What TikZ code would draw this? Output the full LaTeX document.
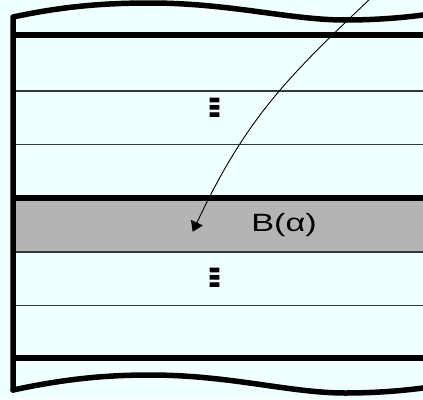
\documentclass[tikz,border=0pt]{standalone}
\usepackage{fontspec}
\setmainfont{Liberation Sans}
\newfontfamily\dejavu{DejaVu Sans}
\usetikzlibrary{arrows.meta}
\definecolor{bgcol}{RGB}{240,255,255}
\definecolor{bandcol}{RGB}{180,180,180}
\definecolor{thincol}{RGB}{50,55,55}
\tikzset{
  thickline/.style={line width=5.5pt, line cap=round, line join=round},
  thinline/.style={line width=1.4pt, draw=thincol},
  vdots/.style={inner sep=0pt, font=\dejavu\bfseries\fontsize{25}{25}\selectfont},
  label/.style={inner sep=0pt, font=\fontsize{25}{25}\selectfont},
  pointer/.style={line width=0.9pt, -{Triangle[length=10pt,width=13pt]}}
}
\begin{document}
\begin{tikzpicture}[x=1pt,y=-1pt]
\useasboundingbox (0,0) rectangle (423,399);
\fill[bgcol] (0,0) rectangle (423,399);
% gray band
\fill[bandcol] (15,200) rectangle (424,252);
% thin lines
\draw[thinline] (13,91) -- (424,91);
\draw[thinline] (13,144.5) -- (424,144.5);
\draw[thinline] (13,252) -- (424,252);
\draw[thinline] (13,305.5) -- (424,305.5);
% thick lines
\draw[thickline, line cap=butt] (13,35) -- (424,35);
\draw[thickline, line cap=butt] (13,198) -- (424,198);
\draw[thickline, line cap=butt] (13,358) -- (424,358);
% left border with top wave and bottom wave
\draw[thickline] (430,14) .. controls (410,17) and (380,20) .. (345,20)
  .. controls (290,20) and (230,3) .. (150,3)
  .. controls (100,3) and (60,7) .. (13,17) -- (13,390);
\draw[thickline] (13,390) .. controls (60,380) and (100,375) .. (150,375)
  .. controls (230,375) and (290,393) .. (345,393)
  .. controls (380,393) and (410,390) .. (430,387);
% texts
\node[vdots] (d1) at (214.5,108) {\scalebox{2.2}[1]{⋮}};
\node[vdots] (d2) at (214.5,278) {\scalebox{2.2}[1]{⋮}};
\node[label, anchor=base] (b) at (284,231.5) {\scalebox{1.37}[1]{B(α)}};
% arrow
\coordinate (s) at (372,-3);
\coordinate (t) at (192.7,231.7);
\draw[pointer] (s) .. controls (290,75) and (247,116) .. (t);
\end{tikzpicture}
\end{document}
